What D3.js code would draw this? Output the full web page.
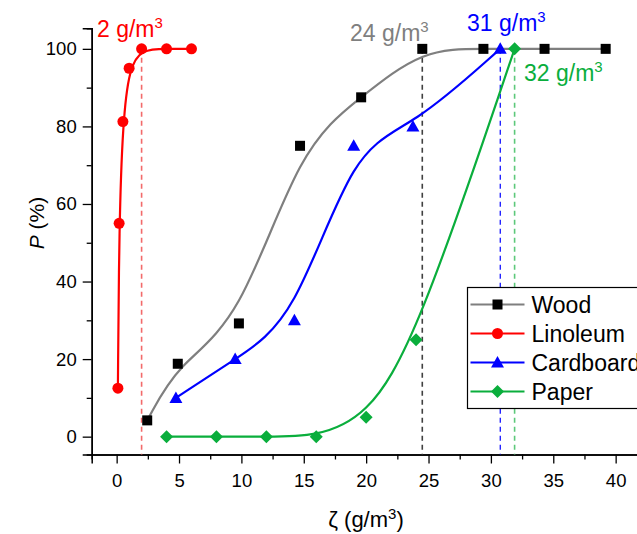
<!DOCTYPE html>
<html>
<head>
<meta charset="utf-8">
<script src="https://cdn.jsdelivr.net/npm/d3@7"></script>
<style>
  body { margin: 0; background: #fff; }
  svg { display: block; font-family: "Liberation Sans", Arial, sans-serif; }
</style>
</head>
<body>
<div id="chart"></div>
<script>
// data
const woodX = [2.45, 4.9, 9.8, 14.7, 19.6, 24.5, 29.4, 34.3, 39.2];
const woodP = [4.2, 18.8, 29.2, 75, 87.5, 100, 100, 100, 100];
const linoleumX = [0.1, 0.2, 0.5, 1, 2, 4, 6];
const linoleumP = [12.5, 55, 81.25, 95, 100, 100, 100];
const cardboardX = [4.75, 9.5, 14.25, 19, 23.75, 30.75];
const cardboardP = [10, 20, 30, 75, 80, 100];
const paperX = [4, 8, 12, 16, 20, 24, 31.9];
const paperP = [0, 0, 0, 0, 5, 25, 100];

const seriesNames = ['Wood', 'Linoleum', 'Cardboard', 'Paper'];
const thresholdX = [2, 24.5, 30.75, 31.9];
const thresholdText = ['2', '24', '31', '32'];

const xTicks = [0, 5, 10, 15, 20, 25, 30, 35, 40];
const xMinor = [2.5, 7.5, 12.5, 17.5, 22.5, 27.5, 32.5, 37.5];
const yTicks = [0, 20, 40, 60, 80, 100];
const yMinor = [10, 30, 50, 70, 90];

const W = 637, H = 534;

const svg = d3.select('#chart').append('svg')
    .attr('width', W)
    .attr('height', H);

const x = d3.scaleLinear().domain([-2, 42]).range([91.7, 640.6]);
const y = d3.scaleLinear().domain([-4.6, 105.3]).range([454.5, 28.3]);

const series = [
    {name: seriesNames[0], xs: woodX, ys: woodP, line: '#7f7f7f', fill: '#000', shape: 'square'},
    {name: seriesNames[1], xs: linoleumX, ys: linoleumP, line: '#ff0000', fill: '#ff0000', shape: 'circle'},
    {name: seriesNames[2], xs: cardboardX, ys: cardboardP, line: '#0000ff', fill: '#0000ff', shape: 'triangle'},
    {name: seriesNames[3], xs: paperX, ys: paperP, line: '#0aae3c', fill: '#0aae3c', shape: 'diamond'},
];

const dashColors = ['#f26a6a', '#404040', '#0000ff', '#5cc87a'];
const labelColors = ['#ff0000', '#7f7f7f', '#0000ff', '#0aae3c'];

// axes
svg.append('g')
    .attr('transform', `translate(0,${y.range()[0]})`)
    .call(d3.axisBottom(x).tickValues(xTicks).tickSize(9).tickPadding(10).tickFormat(d3.format('d')));
svg.append('g')
    .attr('transform', `translate(0,${y.range()[0]})`)
    .call(d3.axisBottom(x).tickValues(xMinor).tickSize(5).tickFormat(''));

svg.append('g')
    .attr('transform', `translate(${x.range()[0]},0)`)
    .call(d3.axisLeft(y).tickValues(yTicks).tickSize(9).tickPadding(6).tickFormat(d3.format('d')));
svg.append('g')
    .attr('transform', `translate(${x.range()[0]},0)`)
    .call(d3.axisLeft(y).tickValues(yMinor).tickSize(5).tickFormat(''));

svg.selectAll('.domain').attr('stroke', '#000').attr('stroke-width', 1.5);
svg.selectAll('.tick line').attr('stroke', '#000').attr('stroke-width', 1.3);
svg.selectAll('.tick text').attr('font-size', 18.5).attr('fill', '#000')
    .attr('font-family', '"Liberation Sans", Arial, sans-serif');

// axis titles
svg.append('text')
    .attr('x', 366).attr('y', 527)
    .attr('text-anchor', 'middle')
    .attr('font-size', 22)
    .html('ζ (g/m<tspan dy="-8" font-size="15">3</tspan><tspan dy="8">)</tspan>');

svg.append('text')
    .attr('transform', 'translate(44,223) rotate(-90)')
    .attr('text-anchor', 'middle')
    .attr('font-size', 21)
    .html('<tspan font-style="italic">P</tspan> (%)');

// threshold dashed lines
thresholdX.forEach((t, i) => {
    svg.append('line')
        .attr('x1', x(t)).attr('x2', x(t))
        .attr('y1', y(100)).attr('y2', y.range()[0])
        .attr('stroke', dashColors[i])
        .attr('stroke-width', i === 2 ? 1.2 : 1.6)
        .attr('stroke-dasharray', '5,4');
});

// curves
const line = d3.line().curve(d3.curveBasis)
    .x(d => x(d[0]))
    .y(d => y(d[1]));

series.forEach(s => {
    const pts = s.xs.map((v, i) => [v, s.ys[i]]);
    svg.append('path')
        .attr('d', line(pts))
        .attr('fill', 'none')
        .attr('stroke', s.line)
        .attr('stroke-width', 2.2);
});

function marker(sel, shape, color) {
    if (shape === 'square') {
        sel.append('rect').attr('x', -5).attr('y', -5).attr('width', 10).attr('height', 10).attr('fill', color);
    } else if (shape === 'circle') {
        sel.append('circle').attr('r', 5.5).attr('fill', color);
    } else if (shape === 'triangle') {
        sel.append('path').attr('d', 'M0,-6.5L6.5,5L-6.5,5Z').attr('fill', color);
    } else {
        sel.append('path').attr('d', 'M0,-6.5L6.5,0L0,6.5L-6.5,0Z').attr('fill', color);
    }
}

series.forEach(s => {
    s.xs.forEach((v, i) => {
        const g = svg.append('g').attr('transform', `translate(${x(v)},${y(s.ys[i])})`);
        marker(g, s.shape, s.fill);
    });
});

// threshold labels
const labelPos = [[97, 37], [350, 41], [467, 31], [524, 81]];
thresholdText.forEach((t, i) => {
    svg.append('text')
        .attr('x', labelPos[i][0]).attr('y', labelPos[i][1])
        .attr('font-size', 23)
        .attr('fill', labelColors[i])
        .html(`${t} g/m<tspan dy="-9" font-size="15">3</tspan>`);
});

// legend
const legend = svg.append('g').attr('transform', 'translate(467.5,287.5)');
legend.append('rect')
    .attr('width', 240).attr('height', 121)
    .attr('fill', '#fff')
    .attr('stroke', '#000')
    .attr('stroke-width', 1.2);

series.forEach((s, i) => {
    const row = legend.append('g').attr('transform', `translate(0,${17 + i * 29})`);
    row.append('line')
        .attr('x1', 3).attr('x2', 57)
        .attr('stroke', s.line).attr('stroke-width', 2.2);
    const m = row.append('g').attr('transform', 'translate(30,0)');
    marker(m, s.shape, s.fill);
    row.append('text')
        .attr('x', 64).attr('y', 8)
        .attr('font-size', 23)
        .text(s.name);
});
</script>
</body>
</html>
